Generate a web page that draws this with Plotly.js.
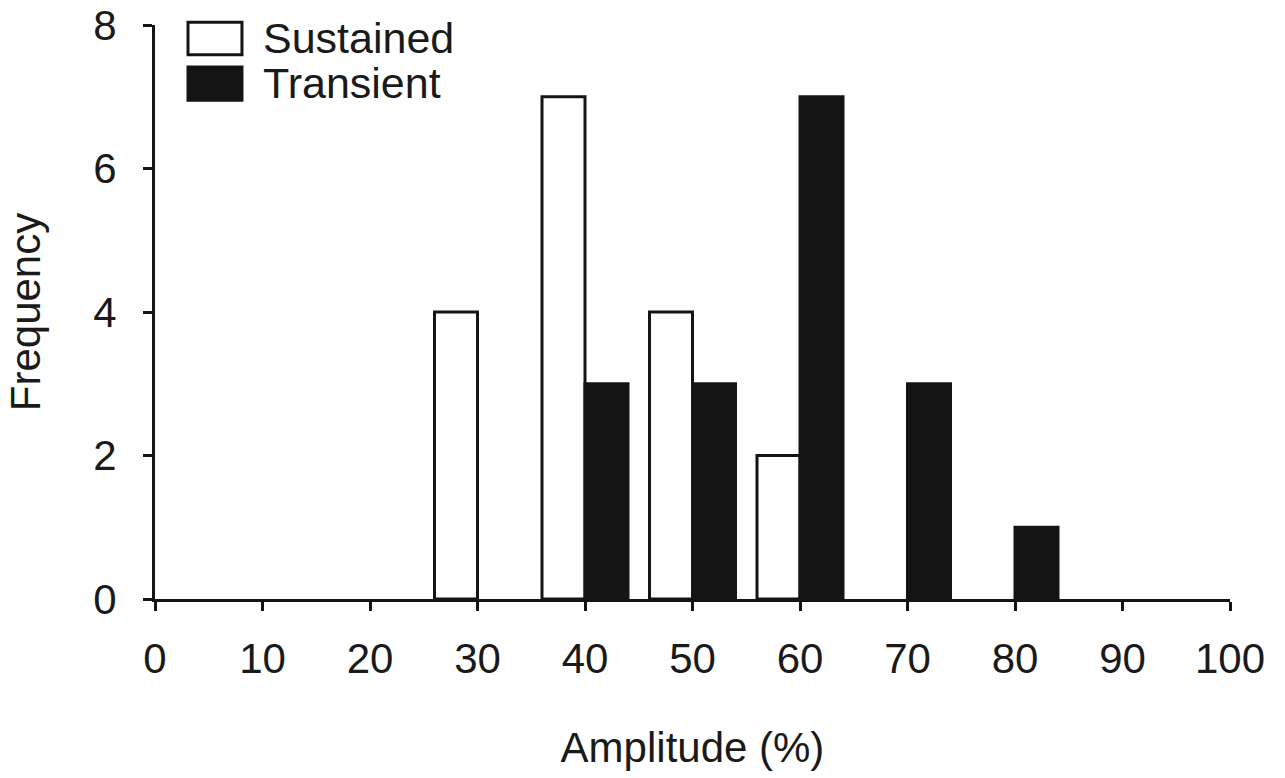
<!DOCTYPE html>
<html>
<head>
<meta charset="utf-8">
<script src="https://cdn.plot.ly/plotly-3.0.1.min.js"></script>
<style>html,body{margin:0;padding:0;background:#fff;}#chart{width:1285px;height:778px;}</style>
</head>
<body>
<div id="chart"></div>
<script>
// Data
const seriesNames = ["Sustained", "Transient"];
const sustainedBins = [30, 40, 50, 60];
const sustainedFreq = [4, 7, 4, 2];
const transientBins = [40, 50, 60, 70, 80];
const transientFreq = [3, 3, 7, 3, 1];
const xTicks = [0, 10, 20, 30, 40, 50, 60, 70, 80, 90, 100];
const yTicks = [0, 2, 4, 6, 8];

const ink = "#141414";
const font = {family: "Liberation Sans, Arial, sans-serif", size: 42, color: "#1a1a1a"};
const legendFont = {family: "Liberation Sans, Arial, sans-serif", size: 43, color: "#1a1a1a"};

const traces = [
  {type: "bar", name: seriesNames[0], x: sustainedBins, y: sustainedFreq,
   width: 4, offset: -4,
   marker: {color: "#ffffff", line: {color: ink, width: 3}}, showlegend: false},
  {type: "bar", name: seriesNames[1], x: transientBins, y: transientFreq,
   width: 4, offset: 0,
   marker: {color: ink, line: {color: ink, width: 3}}, showlegend: false}
];

const layout = {
  width: 1285, height: 778,
  margin: {l: 155, r: 55, t: 25, b: 179},
  paper_bgcolor: "#fff", plot_bgcolor: "#fff",
  font: font,
  barmode: "overlay",
  xaxis: {
    range: [0, 100], tickvals: xTicks, ticktext: xTicks.map(String),
    showline: true, linecolor: ink, linewidth: 3,
    ticks: "outside", ticklen: 9, tickwidth: 3, tickcolor: ink,
    showgrid: false, zeroline: false, fixedrange: true,
    ticklabelstandoff: 12,
    tickfont: font,
    title: {text: "Amplitude (%)", font: font, standoff: 52}
  },
  yaxis: {
    range: [0, 8], tickvals: yTicks, ticktext: yTicks.map(String),
    showline: true, linecolor: ink, linewidth: 3,
    ticks: "outside", ticklen: 9, tickwidth: 3, tickcolor: ink,
    showgrid: false, zeroline: false, fixedrange: true,
    ticklabelstandoff: 18,
    tickfont: font,
    title: {text: "Frequency", font: font, standoff: 40}
  },
  shapes: [
    {type: "rect", xref: "paper", yref: "paper", x0: 0.0307, x1: 0.0809, y0: 0.948, y1: 1.005,
     fillcolor: "#fff", line: {color: ink, width: 3}},
    {type: "rect", xref: "paper", yref: "paper", x0: 0.0307, x1: 0.0809, y0: 0.869, y1: 0.927,
     fillcolor: ink, line: {color: ink, width: 3}}
  ],
  annotations: [
    {xref: "paper", yref: "paper", x: 0.0985, y: 0.977, xanchor: "left", yanchor: "middle",
     text: seriesNames[0], showarrow: false, font: legendFont},
    {xref: "paper", yref: "paper", x: 0.0985, y: 0.899, xanchor: "left", yanchor: "middle",
     text: seriesNames[1], showarrow: false, font: legendFont}
  ]
};

Plotly.newPlot("chart", traces, layout, {displayModeBar: false, staticPlot: true});
</script>
</body>
</html>
